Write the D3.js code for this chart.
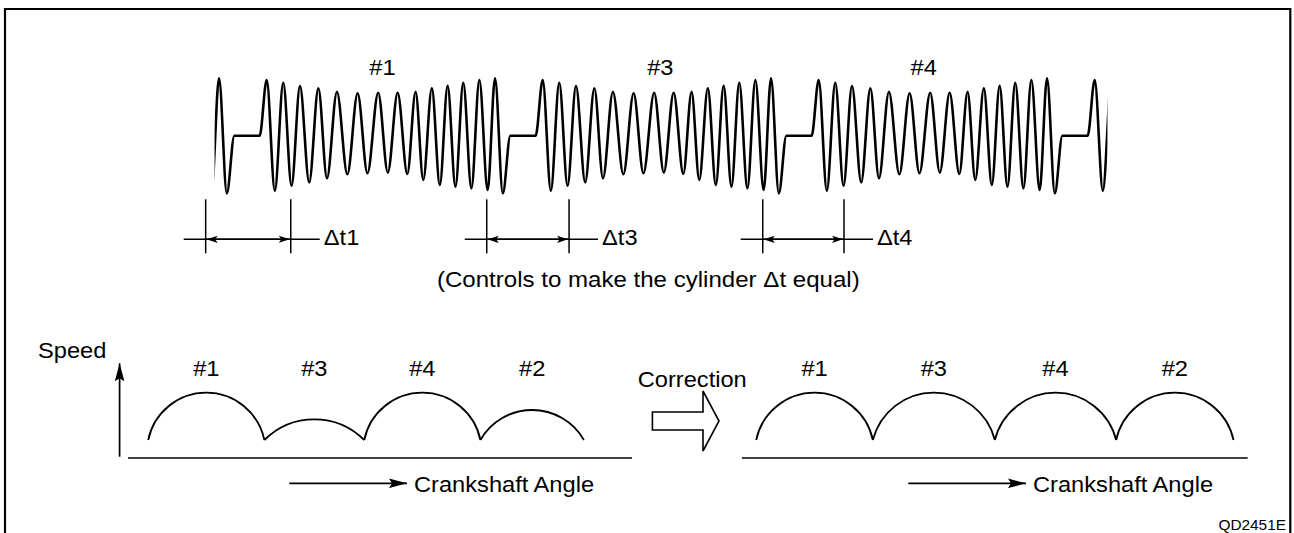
<!DOCTYPE html>
<html><head><meta charset="utf-8">
<script src="https://cdn.jsdelivr.net/npm/d3@7"></script>
<style>
body{margin:0;background:#fff}
svg{display:block}
text{font-family:"Liberation Sans",Arial,Helvetica,sans-serif;fill:#000}
</style>
</head><body>
<svg id="c" width="1294" height="533"></svg>
<script>
// ---------------- data ----------------
// Crank position sensor waveform: tooth pattern of one cylinder stroke (crank deg from segment start)
const toothPeakAngles   = [0, 10.8, 21.7, 33.7, 45.8, 59.3, 72.7, 85.4, 97.1, 107.7, 118.0, 128.2, 138.7, 148.9];
const toothPeakValues   = [55.7, 53, 49.7, 47.4, 44, 42.4, 43, 43, 44, 47.4, 50, 53, 55.7, 57.4];
const toothTroughAngles = [5.3, 16.2, 27.7, 39.3, 52.6, 65.7, 79.0, 91.7, 102.1, 112.9, 123.1, 133.5, 144.1, 154.0];
const toothTroughValues = [-55, -50, -46.6, -42.6, -38.6, -37.6, -37, -38.3, -44.3, -49.3, -51, -52.6, -54.3, -57.6];
const gapStartAngle = 158.9, gapEndAngle = 175.4;          // missing-tooth flat section
const segmentStartAngles = [-180, 0, 180, 360, 540];      // #2, #1, #3, #4, #2
const waveWindow = [-34.0, 548.3];                        // visible part of the trace
const waveLabels = ["#1", "#3", "#4"];
const waveLabelAngles = [75.5, 256.7, 428.5];
const dtLabels = ["\u0394t1", "\u0394t3", "\u0394t4"];
const dtStartAngles = [-39.8, 143.5, 323.5];
const dtEndAngles = [15.7, 197.2, 376.5];
const noteText = "(Controls to make the cylinder \u0394t equal)";

// Speed per cylinder combustion (before / after correction)
const cylinders = ["#1", "#3", "#4", "#2"];
const speedBefore = [47.3, 20.7, 47.3, 30];
const speedAfter  = [47.3, 47.3, 47.3, 47.3];
const boundsBefore = [0, 192, 357, 549, 720];   // crank angle boundaries of each stroke
const boundsAfter  = [0, 176, 360, 543, 720];

// ---------------- drawing ----------------
const svg = d3.select("#c");
const FS = 21.5, SX = 1.1;
function txt(x, y, s, anchor, size, sx) {
  const g = svg.append("g").attr("transform", `translate(${x},${y}) scale(${sx || SX},1)`);
  g.append("text").attr("x", 0).attr("y", 0).attr("text-anchor", anchor || "start")
    .attr("font-size", (size || FS) + "px").text(s);
  return g;
}

const defs = svg.append("defs");
defs.append("marker").attr("id", "ah").attr("markerUnits", "userSpaceOnUse")
  .attr("viewBox", "0 -5 18 10").attr("refX", 18).attr("refY", 0)
  .attr("markerWidth", 18).attr("markerHeight", 10).attr("orient", "auto-start-reverse")
  .append("path").attr("d", "M0,-4.8L18,0L0,4.8L3,0Z").attr("fill", "#000");
defs.append("marker").attr("id", "ahs").attr("markerUnits", "userSpaceOnUse")
  .attr("viewBox", "0 -4 11 8").attr("refX", 11).attr("refY", 0)
  .attr("markerWidth", 11).attr("markerHeight", 8).attr("orient", "auto-start-reverse")
  .append("path").attr("d", "M0,-3.6L11,0L0,3.6L2.5,0Z").attr("fill", "#000");

// frame
svg.append("path").attr("d", "M5,545V9H1290.3V545").attr("fill", "none")
  .attr("stroke", "#000").attr("stroke-width", 2.2);

// ---- waveform ----
const xw = d3.scaleLinear().domain([0, 180]).range([266.7, 542.7]);
const yw = d3.scaleLinear().domain([-60, 60]).range([195.7, 75.7]);
let pts = [];
segmentStartAngles.forEach(s => {
  toothPeakAngles.forEach((a, i) => pts.push([s + a, toothPeakValues[i]]));
  toothTroughAngles.forEach((a, i) => pts.push([s + a, toothTroughValues[i]]));
  pts.push([s + gapStartAngle, 0]);
  pts.push([s + gapEndAngle, 0]);
});
pts.sort((a, b) => a[0] - b[0]);
defs.append("clipPath").attr("id", "wclip").append("rect")
  .attr("x", xw(waveWindow[0])).attr("y", 0)
  .attr("width", xw(waveWindow[1]) - xw(waveWindow[0])).attr("height", 533);
svg.append("path").attr("clip-path", "url(#wclip)")
  .attr("d", d3.line().x(d => xw(d[0])).y(d => yw(d[1])).curve(d3.curveMonotoneX)(pts))
  .attr("fill", "none").attr("stroke", "#000").attr("stroke-width", 2.6)
  .attr("stroke-linejoin", "round");

waveLabels.forEach((l, i) => txt(xw(waveLabelAngles[i]), 75, l, "middle"));

// dimension markers
dtLabels.forEach((l, i) => {
  const x1 = xw(dtStartAngles[i]), x2 = xw(dtEndAngles[i]);
  const yL = 239.3;
  svg.append("line").attr("x1", x1 - 22).attr("x2", x2 + 29).attr("y1", yL).attr("y2", yL)
    .attr("stroke", "#000").attr("stroke-width", 1.4);
  svg.append("line").attr("x1", x1 + 1).attr("x2", x2 - 1).attr("y1", yL).attr("y2", yL)
    .attr("stroke", "#000").attr("stroke-width", 1.4)
    .attr("marker-start", "url(#ahs)").attr("marker-end", "url(#ahs)");
  [x1, x2].forEach(x => svg.append("line").attr("x1", x).attr("x2", x).attr("y1", 199.3).attr("y2", 253.3)
    .attr("stroke", "#000").attr("stroke-width", 1.5));
  txt(x2 + 33, 244.5, l, "start");
});
txt(648.3, 287.3, noteText, "middle", FS, 1.12);

// ---- speed panels ----
const yS = d3.scaleLinear().domain([0, 60]).range([440, 380]);
function panel(xs, bounds, speeds) {
  const arc = i => {
    const a = xs(bounds[i]), b = xs(bounds[i + 1]);
    const h = yS(0) - yS(speeds[i]);
    const c = b - a, r = (c * c / 4 + h * h) / (2 * h);
    const large = h > c / 2 ? 1 : 0;
    return `M${a},${yS(0)}A${r},${r} 0 ${large} 1 ${b},${yS(0)}`;
  };
  cylinders.forEach((cyl, i) => {
    svg.append("path").attr("d", arc(i)).attr("fill", "none")
      .attr("stroke", "#000").attr("stroke-width", 1.8);
    txt((xs(bounds[i]) + xs(bounds[i + 1])) / 2, 376, cyl, "middle");
  });
}
const xL = d3.scaleLinear().domain([0, 720]).range([148.2, 583.9]);
const xR = d3.scaleLinear().domain([0, 720]).range([756.2, 1233.5]);
panel(xL, boundsBefore, speedBefore);
panel(xR, boundsAfter, speedAfter);

// axes
svg.append("line").attr("x1", 128).attr("x2", 632).attr("y1", 458).attr("y2", 458)
  .attr("stroke", "#000").attr("stroke-width", 1.7);
svg.append("line").attr("x1", 742).attr("x2", 1247.7).attr("y1", 458).attr("y2", 458)
  .attr("stroke", "#000").attr("stroke-width", 1.7);
svg.append("line").attr("x1", 119.6).attr("x2", 119.6).attr("y1", 456.7).attr("y2", 363.3)
  .attr("stroke", "#000").attr("stroke-width", 1.7).attr("marker-end", "url(#ah)");
txt(38, 358, "Speed", "start");

// crankshaft angle arrows
[[289.3, 407], [908.3, 1026]].forEach(([a, b]) => {
  svg.append("line").attr("x1", a).attr("x2", b).attr("y1", 483.3).attr("y2", 483.3)
    .attr("stroke", "#000").attr("stroke-width", 1.7).attr("marker-end", "url(#ah)");
  txt(b + 7, 491.5, "Crankshaft Angle", "start");
});

// correction arrow
txt(637.7, 387.3, "Correction", "start");
svg.append("path")
  .attr("d", "M652.4,412L703,412L703,391L719,421L703,451L703,430L652.4,430Z")
  .attr("fill", "#fff").attr("stroke", "#000").attr("stroke-width", 1.6).attr("stroke-linejoin", "miter");

txt(1286, 530, "QD2451E", "end", 14, 1.1);
</script>
</body></html>
